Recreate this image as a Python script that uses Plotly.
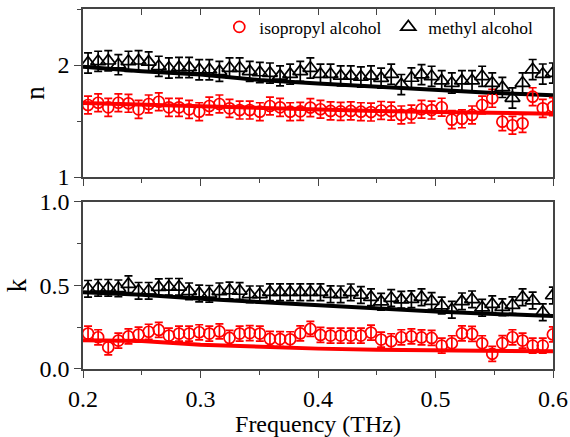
import plotly.graph_objects as go

freq = [0.2043, 0.2129, 0.2215, 0.2301, 0.2387, 0.2473, 0.2559, 0.2645, 0.2731, 0.2817,
        0.2903, 0.2989, 0.3075, 0.3161, 0.3247, 0.3333, 0.3419, 0.3505, 0.3591, 0.3677,
        0.3763, 0.3849, 0.3935, 0.4021, 0.4107, 0.4193, 0.4279, 0.4365, 0.4451, 0.4537,
        0.4623, 0.4709, 0.4795, 0.4881, 0.4967, 0.5053, 0.5139, 0.5225, 0.5311, 0.5397,
        0.5483, 0.5569, 0.5655, 0.5741, 0.5827, 0.5913, 0.5999]

n_iso = [1.643, 1.663, 1.622, 1.663, 1.658, 1.604, 1.652, 1.672, 1.622, 1.622,
         1.604, 1.583, 1.634, 1.652, 1.613, 1.598, 1.598, 1.583, 1.634, 1.622,
         1.583, 1.586, 1.620, 1.605, 1.590, 1.586, 1.590, 1.583, 1.580, 1.594,
         1.588, 1.554, 1.562, 1.605, 1.598, 1.623, 1.512, 1.520, 1.554, 1.643,
         1.703, 1.494, 1.462, 1.479, 1.717, 1.613, 1.628]
n_meth = [2.018, 2.033, 2.038, 2.003, 2.033, 2.038, 2.028, 1.988, 1.973, 1.978,
          1.978, 1.958, 1.958, 1.943, 1.973, 1.973, 1.943, 1.933, 1.928, 1.903,
          1.918, 1.943, 1.973, 1.918, 1.918, 1.903, 1.903, 1.893, 1.903, 1.883,
          1.918, 1.825, 1.884, 1.914, 1.899, 1.860, 1.839, 1.860, 1.860, 1.899,
          1.839, 1.800, 1.705, 1.839, 1.959, 1.919, 1.928]
k_iso = [0.212, 0.190, 0.130, 0.170, 0.195, 0.206, 0.223, 0.234, 0.200, 0.212,
         0.212, 0.220, 0.212, 0.225, 0.186, 0.212, 0.215, 0.212, 0.180, 0.179,
         0.178, 0.213, 0.240, 0.204, 0.200, 0.200, 0.200, 0.200, 0.218, 0.176,
         0.166, 0.190, 0.195, 0.189, 0.186, 0.140, 0.154, 0.213, 0.210, 0.154,
         0.091, 0.155, 0.190, 0.170, 0.140, 0.140, 0.207]
k_meth = [0.480, 0.486, 0.486, 0.483, 0.508, 0.468, 0.468, 0.490, 0.492, 0.492,
          0.465, 0.452, 0.450, 0.465, 0.470, 0.467, 0.447, 0.447, 0.460, 0.460,
          0.460, 0.460, 0.460, 0.460, 0.448, 0.447, 0.459, 0.443, 0.430, 0.403,
          0.425, 0.415, 0.418, 0.430, 0.407, 0.380, 0.355, 0.405, 0.417, 0.367,
          0.388, 0.370, 0.382, 0.430, 0.410, 0.340, 0.440]

n_err_iso = 0.08
n_err_meth = 0.09
k_err_iso = 0.045
k_err_meth = 0.05

fit_freq = [0.2, 0.25, 0.3, 0.35, 0.4, 0.45, 0.5, 0.55, 0.6]
n_fit_iso = [1.660, 1.645, 1.630, 1.615, 1.600, 1.590, 1.580, 1.570, 1.565]
n_fit_meth = [1.985, 1.945, 1.915, 1.866, 1.835, 1.806, 1.775, 1.750, 1.730]
k_fit_iso = [0.172, 0.168, 0.145, 0.132, 0.122, 0.115, 0.110, 0.108, 0.106]
k_fit_meth = [0.460, 0.445, 0.420, 0.400, 0.380, 0.363, 0.345, 0.330, 0.318]

RED = "#FF0000"
BLK = "#000000"
FONT = "Liberation Serif, Times New Roman, Times, serif"
AX = "#444444"

fig = go.Figure()

for fy, col, ax in [(n_fit_iso, RED, ("x2", "y2")), (n_fit_meth, BLK, ("x2", "y2")),
                    (k_fit_iso, RED, ("x", "y")), (k_fit_meth, BLK, ("x", "y"))]:
    fig.add_trace(go.Scatter(x=fit_freq, y=fy, mode="lines", line=dict(color=col, width=4),
                             showlegend=False, xaxis=ax[0], yaxis=ax[1], hoverinfo="skip"))

def pts(y, err, col, sym, size, name, xa, ya, legend):
    return go.Scatter(x=freq, y=y, mode="markers", name=name, showlegend=legend,
                      marker=dict(symbol=sym, size=size, color=col, line=dict(color=col, width=1.7)),
                      error_y=dict(type="constant", value=err, color=col, thickness=1.7, width=4),
                      xaxis=xa, yaxis=ya)

fig.add_trace(pts(n_iso, n_err_iso, RED, "circle-open", 11, "isopropyl alcohol", "x2", "y2", True))
fig.add_trace(pts(n_meth, n_err_meth, BLK, "triangle-up-open", 13, "methyl alcohol", "x2", "y2", True))
fig.add_trace(pts(k_iso, k_err_iso, RED, "circle-open", 11, "isopropyl alcohol", "x", "y", False))
fig.add_trace(pts(k_meth, k_err_meth, BLK, "triangle-up-open", 13, "methyl alcohol", "x", "y", False))

fig.add_trace(go.Scatter(x=[0.4], y=[1.0], mode="markers", marker=dict(opacity=0),
                         showlegend=False, xaxis="x3", yaxis="y2", hoverinfo="skip"))

xcommon = dict(range=[0.2, 0.6], dtick=0.1, tick0=0.2, showline=True, linecolor=AX, linewidth=1.6,
               showgrid=False, zeroline=False, ticklen=7, tickwidth=1.4, tickcolor=AX, automargin=False,
               minor=dict(dtick=0.05, ticklen=4, tickwidth=1.4, tickcolor=AX, ticks="outside"))
ycommon = dict(ticks="outside", ticklen=7, tickwidth=1.4, tickcolor=AX, automargin=False,
               showline=True, linecolor=AX, linewidth=1.6, mirror=True, showgrid=False, zeroline=False,
               tickfont=dict(size=24, family=FONT))

fig.update_layout(
    width=570, height=437,
    margin=dict(l=83, r=17, t=9, b=68),
    paper_bgcolor="white", plot_bgcolor="white",
    font=dict(family=FONT, color="black", size=22),
    xaxis=dict(domain=[0, 1], anchor="y", ticks="outside", mirror=True,
               tickfont=dict(size=24, family=FONT),
               title=dict(text="Frequency (THz)", font=dict(size=24, family=FONT), standoff=2),
               **xcommon),
    xaxis2=dict(domain=[0, 1], anchor="y2", ticks="outside", showticklabels=False, mirror=True,
                matches="x", **xcommon),
    xaxis3=dict(overlaying="x2", side="top", anchor="y2", range=[0.2, 0.6], dtick=0.05, tick0=0.2,
                ticks="inside", ticklen=6, tickwidth=1.4, tickcolor=AX, showticklabels=False,
                showline=False, showgrid=False, zeroline=False, automargin=False),
    yaxis=dict(domain=[0, 0.4639], anchor="x", range=[0, 1], dtick=0.5, tickformat=".1f",
               minor=dict(dtick=0.25, ticklen=4, tickwidth=1.4, tickcolor=AX, ticks="outside"),
               title=dict(text="k", font=dict(size=27, family=FONT), standoff=5),
               **ycommon),
    yaxis2=dict(domain=[0.5333, 1], anchor="x2", range=[1, 2.5], dtick=1, tick0=1,
                minor=dict(dtick=0.5, ticklen=4, tickwidth=1.4, tickcolor=AX, ticks="outside"),
                title=dict(text="n", font=dict(size=27, family=FONT), standoff=5),
                **ycommon),
    legend=dict(orientation="h", x=0.29, y=1.0, xanchor="left", yanchor="top",
                bgcolor="rgba(0,0,0,0)", font=dict(size=17.5, family=FONT),
                itemwidth=30, tracegroupgap=0, entrywidth=124, entrywidthmode="pixels"),
    showlegend=True,
)

fig.write_html("out.html")
